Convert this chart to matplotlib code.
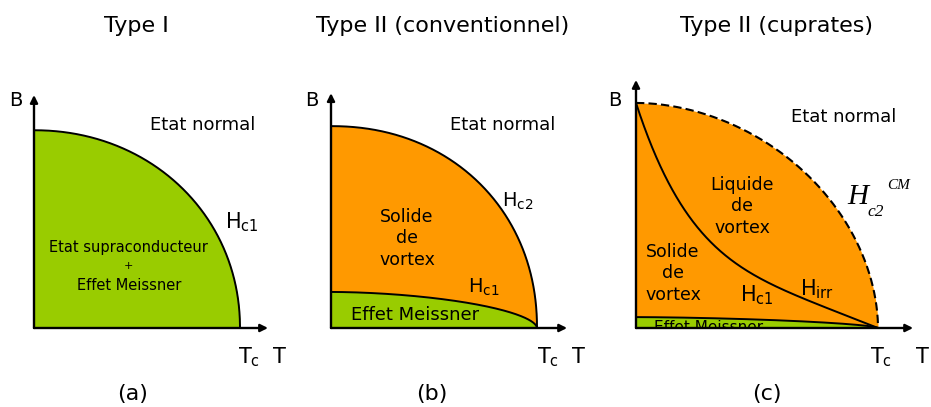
import numpy as np
import matplotlib
matplotlib.use("Agg")
import matplotlib.pyplot as plt

# ---------------- data (reduced units, T in units of Tc) ----------------
titles = ["Type I", "Type II (conventionnel)", "Type II (cuprates)"]
tags = ["(a)", "(b)", "(c)"]
Tc = 1.0
# panel (a) : type I critical field
Hc_a0, Hc_a_shape = 0.96, 2.05
# panel (b) : conventional type II
Hc2_b0, Hc2_b_shape = 0.98, 2.1
Hc1_b0, Hc1_b_shape = 0.175, 1.8
# panel (c) : cuprates
Hc2_c0, Hc2_c_shape = 0.93, 1.9
Hc1_c0, Hc1_c_shape = 0.045, 1.6
Hirr_c0, Hirr_c_exp, Hirr_c_weight = 0.93, 5.0, 0.58

GREEN = "#99CC00"
ORANGE = "#FF9900"

W, H, DPI = 931, 407, 100
plt.rcParams["font.family"] = ["DejaVu Sans"]
fig = plt.figure(figsize=(W / DPI, H / DPI), dpi=DPI)
fig.patch.set_facecolor("white")


def ftext(x, y, s, **kw):
    kw.setdefault("va", "baseline")
    return fig.text(x / W, 1 - y / H, s, **kw)


def make_panel(ox, oy, scale, xmax, ymax):
    ax = fig.add_axes([ox / W, (H - oy) / H, xmax * scale / W, ymax * scale / H])
    ax.set_xlim(0, xmax)
    ax.set_ylim(0, ymax)
    ax.axis("off")
    arrow = dict(arrowstyle="-|>", color="black", lw=1.7, mutation_scale=11,
                 shrinkA=0, shrinkB=0)
    ax.annotate("", xy=(xmax, 0), xytext=(0, 0), arrowprops=arrow,
                annotation_clip=False, zorder=6)
    ax.annotate("", xy=(0, ymax), xytext=(0, 0), arrowprops=arrow,
                annotation_clip=False, zorder=6)
    return ax


def boundary(T, B0, n):
    return B0 * np.clip(1 - (T / Tc) ** n, 0, None) ** (1.0 / n)


T = Tc * np.sin(np.linspace(0, np.pi / 2, 1200))

# ---------------- panel (a) ----------------
axa = make_panel(34, 328, 206, 1.136, 1.131)
Ba = boundary(T, Hc_a0, Hc_a_shape)
axa.fill_between(T, 0, Ba, color=GREEN, lw=0, zorder=1)
axa.plot(T, Ba, color="black", lw=1.4, zorder=3)

# ---------------- panel (b) ----------------
axb = make_panel(331, 328, 206, 1.146, 1.14)
Bb2 = boundary(T, Hc2_b0, Hc2_b_shape)
Bb1 = boundary(T, Hc1_b0, Hc1_b_shape)
axb.fill_between(T, 0, Bb2, color=ORANGE, lw=0, zorder=1)
axb.fill_between(T, 0, Bb1, color=GREEN, lw=0, zorder=2)
axb.plot(T, Bb2, color="black", lw=1.4, zorder=3)
axb.plot(T, Bb1, color="black", lw=1.4, zorder=3)

# ---------------- panel (c) ----------------
axc = make_panel(636, 328, 242, 1.145, 1.025)
Bc2 = boundary(T, Hc2_c0, Hc2_c_shape)
Bc1 = boundary(T, Hc1_c0, Hc1_c_shape)
Tl = np.linspace(0, Tc, 600)
u = 1 - Tl / Tc
Birr = Hirr_c0 * (Hirr_c_weight * u ** Hirr_c_exp + (1 - Hirr_c_weight) * u)
axc.fill_between(T, 0, Bc2, color=ORANGE, lw=0, zorder=1)
axc.fill_between(T, 0, Bc1, color=GREEN, lw=0, zorder=2)
axc.plot(T, Bc2, color="black", lw=1.5, ls=(0, (4, 2)), zorder=3)
axc.plot(T, Bc1, color="black", lw=1.4, zorder=3)
axc.plot(Tl, Birr, color="black", lw=1.4, zorder=3)
axc.text(0.30, -0.017, "Effet Meissner", fontsize=11, ha="center",
         va="baseline", clip_on=True, zorder=2.5)

# ---------------- texts ----------------
for x, s in zip([136, 443, 777], titles):
    ftext(x, 32, s, fontsize=16, ha="center")
for x, s in zip([133, 432, 767], tags):
    ftext(x, 400, s, fontsize=16, ha="center")

for x in [16, 312, 615]:
    ftext(x, 106, "B", fontsize=14, ha="center")
for x in [238, 537, 870]:
    ftext(x, 363, r"$\mathregular{T_c}$", fontsize=15, ha="left")
for x in [273, 572, 916]:
    ftext(x, 363, "T", fontsize=15, ha="left")

# panel a labels
ftext(203, 130, "Etat normal", fontsize=13, ha="center")
ftext(225, 228, r"$\mathregular{H_{c1}}$", fontsize=15, ha="left")
ftext(128, 252, "Etat supraconducteur", fontsize=10.5, ha="center")
ftext(128, 269, "+", fontsize=8, ha="center")
ftext(129, 290, "Effet Meissner", fontsize=10.5, ha="center")

# panel b labels
ftext(503, 130, "Etat normal", fontsize=13, ha="center")
ftext(502, 207, r"$\mathregular{H_{c2}}$", fontsize=14, ha="left")
ftext(407, 222, "Solide", fontsize=12.5, ha="center")
ftext(407, 243, "de", fontsize=12.5, ha="center")
ftext(407, 265, "vortex", fontsize=12.5, ha="center")
ftext(468, 293, r"$\mathregular{H_{c1}}$", fontsize=14, ha="left")
ftext(415, 320, "Effet Meissner", fontsize=13, ha="center")

# panel c labels
ftext(844, 122, "Etat normal", fontsize=13, ha="center")
serif = dict(family="Liberation Serif", style="italic", ha="left")
ftext(847, 204, "H", fontsize=21, **serif)
ftext(867, 216, "c2", fontsize=12.5, **serif)
ftext(887, 189, "CM", fontsize=11, **serif)
ftext(742, 190, "Liquide", fontsize=12.5, ha="center")
ftext(742, 211, "de", fontsize=12.5, ha="center")
ftext(742, 233, "vortex", fontsize=12.5, ha="center")
ftext(673, 257, "Solide", fontsize=12.5, ha="center")
ftext(673, 278, "de", fontsize=12.5, ha="center")
ftext(673, 300, "vortex", fontsize=12.5, ha="center")
ftext(740, 301, r"$\mathregular{H_{c1}}$", fontsize=15, ha="left")
ftext(800, 295, r"$\mathregular{H_{irr}}$", fontsize=15, ha="left")

fig.savefig("out.png", dpi=DPI)
